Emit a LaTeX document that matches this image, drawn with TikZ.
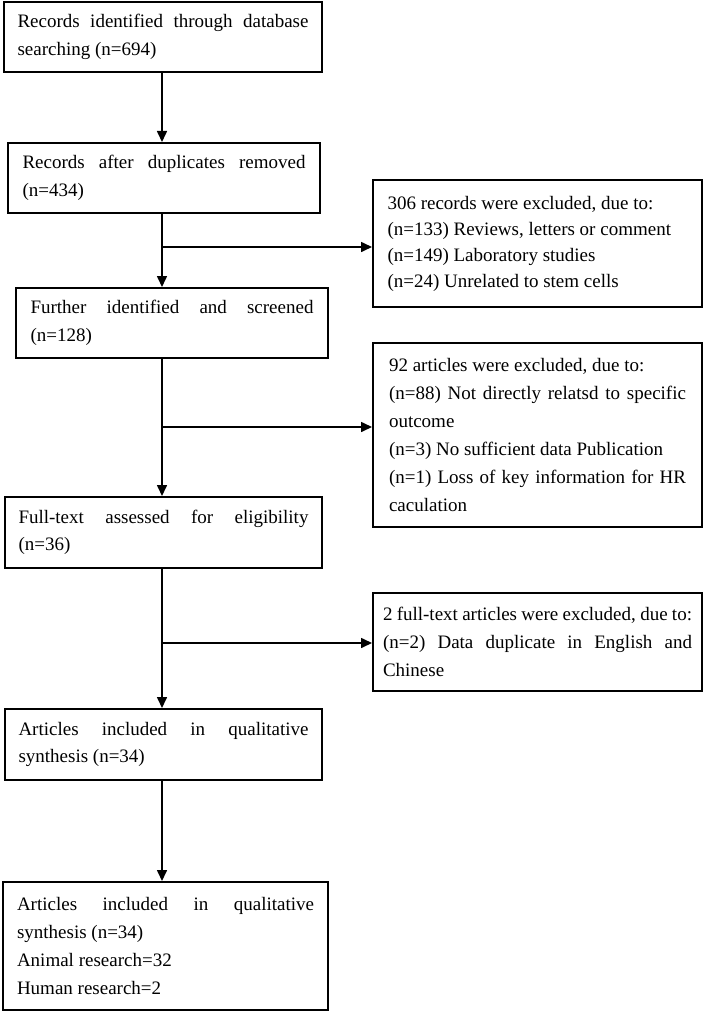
\documentclass[tikz,border=0pt]{standalone}
\usepackage{fontspec}
\setmainfont{Liberation Serif}
\usetikzlibrary{arrows.meta}
\begin{document}
\begin{tikzpicture}[x=1pt,y=-1pt,
  box/.style={draw=black, line width=2pt, inner sep=0pt, align=justify,
    font=\fontsize{19pt}{27.5pt}\selectfont},
  arr/.style={line width=1.6pt, -{Triangle[width=10pt,length=11pt]}},
  plain/.style={line width=1.6pt}]
\useasboundingbox (0,0) rectangle (709,1011);
\fill[white] (0,0) rectangle (709,1011);

\node[box, minimum width=318pt, minimum height=70pt, text width=291pt] (b1) at (163,37)
  {Records identified through database\linebreak searching (n=694)};
\node[box, minimum width=312pt, minimum height=70pt, text width=283pt] (b2) at (164,178)
  {Records after duplicates removed\linebreak (n=434)};
\node[box, minimum width=329pt, minimum height=127pt, text width=300pt,
  font=\fontsize{19pt}{26pt}\selectfont] (b3) at (537.5,243.5)
  {306 records were excluded, due to:\\
   (n=133) Reviews, letters or comment\\
   (n=149) Laboratory studies\\
   (n=24) Unrelated to stem cells};
\node[box, minimum width=312pt, minimum height=70pt, text width=283pt] (b4) at (172,323)
  {Further identified and screened\linebreak (n=128)};
\node[box, minimum width=329pt, minimum height=184pt, text width=297pt,
  font=\fontsize{19pt}{28pt}\selectfont] (b5) at (537.5,435)
  {92 articles were excluded, due to:\\
   (n=88) Not directly relatsd to specific\linebreak
   outcome\\
   (n=3) No sufficient data Publication\\
   (n=1) Loss of key information for HR\linebreak
   caculation};
\node[box, minimum width=317pt, minimum height=71pt, text width=290pt] (b6) at (163.5,532.5)
  {Full-text assessed for eligibility\linebreak (n=36)};
\node[box, minimum width=329pt, minimum height=98pt, text width=309pt,
  font=\fontsize{19pt}{28pt}\selectfont] (b8) at (537.5,642)
  {2 full-text articles were excluded, due to:\\
   (n=2) Data duplicate in English and\linebreak
   Chinese};
\node[box, minimum width=317pt, minimum height=71pt, text width=290pt] (b7) at (163.5,744.5)
  {Articles included in qualitative\linebreak synthesis (n=34)};
\node[box, minimum width=325pt, minimum height=128pt, text width=297pt,
  font=\fontsize{19pt}{28pt}\selectfont] (b9) at (165.5,946)
  {Articles included in qualitative\linebreak synthesis (n=34)\\
   Animal research=32\\
   Human research=2};

\coordinate (s) at (162,0);
\coordinate (j1) at (162,247);
\coordinate (j2) at (162,427);
\coordinate (j3) at (162,643);

\draw[arr] (b1.south -| s) -- (b2.north -| s);
\draw[arr] (b2.south -| s) -- (b4.north -| s);
\draw[arr] (b4.south -| s) -- (b6.north -| s);
\draw[arr] (b6.south -| s) -- (b7.north -| s);
\draw[arr] (b7.south -| s) -- (b9.north -| s);
\draw[arr] (j1) -- (j1 -| b3.west);
\draw[arr] (j2) -- (j2 -| b5.west);
\draw[arr] (j3) -- (j3 -| b8.west);
\end{tikzpicture}
\end{document}
